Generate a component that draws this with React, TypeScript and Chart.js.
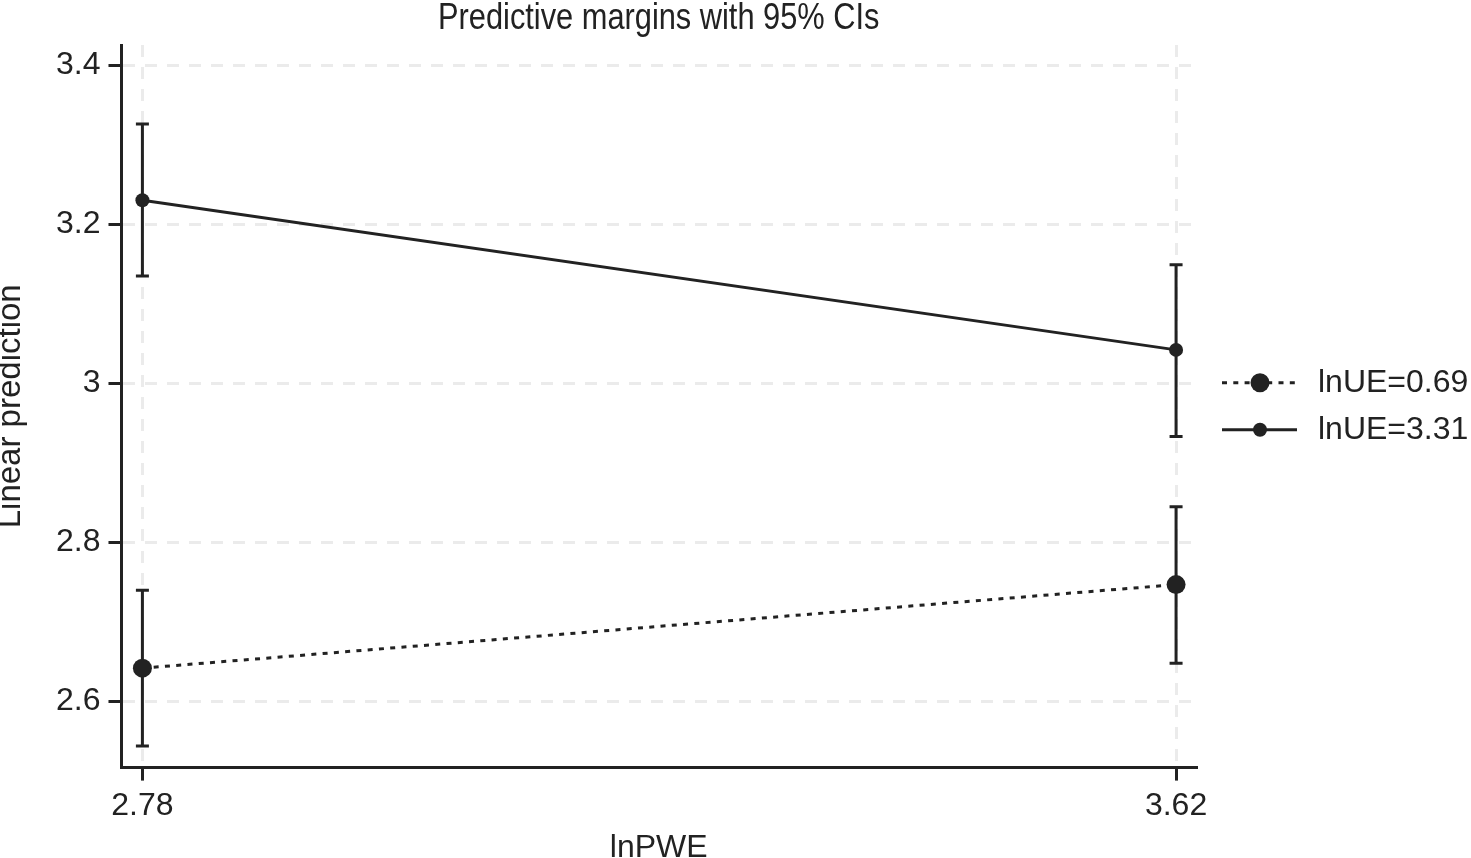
import React from "react"
import { Chart, registerables } from "chart.js"

Chart.register(...registerables)

// values
const xValues = [2.78, 3.62]
const seriesLabels = ["lnUE=0.69", "lnUE=3.31"]
const marginLow = [2.642, 2.747]
const lowerLow = [2.544, 2.648]
const upperLow = [2.740, 2.845]
const marginHigh = [3.230, 3.042]
const lowerHigh = [3.135, 2.933]
const upperHigh = [3.326, 3.149]
const yTicks = [2.6, 2.8, 3.0, 3.2, 3.4]
const xTicks = [2.78, 3.62]
const chartTitle = "Predictive margins with 95% CIs"

const INK = "#222222"
const GRID = "#ebebeb"
const FONT = "'Liberation Sans', Arial, Helvetica, sans-serif"

const fmt = (v: number | string) => Number(v).toFixed(2).replace(/\.?0+$/, "")

const errorBars = {
  id: "errorBars",
  beforeDatasetsDraw(chart: any) {
    const { ctx, scales } = chart
    const { x, y } = scales
    const bands = [
      [lowerLow, upperLow],
      [lowerHigh, upperHigh],
    ]
    ctx.save()
    ctx.strokeStyle = INK
    ctx.lineWidth = 3
    bands.forEach(([lo, hi]) => {
      xValues.forEach((xv, i) => {
        const px = x.getPixelForValue(xv)
        const top = y.getPixelForValue(hi[i])
        const bot = y.getPixelForValue(lo[i])
        ctx.beginPath()
        ctx.moveTo(px, top)
        ctx.lineTo(px, bot)
        ctx.moveTo(px - 6.5, top)
        ctx.lineTo(px + 6.5, top)
        ctx.moveTo(px - 6.5, bot)
        ctx.lineTo(px + 6.5, bot)
        ctx.stroke()
      })
    })
    ctx.restore()
  },
}

// narrow title centred over the plot area, partly clipped at the top
const plotTitle = {
  id: "plotTitle",
  afterDraw(chart: any) {
    const { ctx, chartArea } = chart
    const cx = (chartArea.left + chartArea.right) / 2
    ctx.save()
    ctx.font = `36px ${FONT}`
    ctx.fillStyle = INK
    ctx.textAlign = "center"
    ctx.textBaseline = "alphabetic"
    ctx.translate(cx, 29)
    ctx.scale(0.855, 1)
    ctx.fillText(chartTitle, 0, 0)
    ctx.restore()
  },
}

// legend to the right: line sample with marker, then the label
const sideLegend = {
  id: "sideLegend",
  afterDraw(chart: any) {
    const { ctx, chartArea } = chart
    const mid = (chartArea.top + chartArea.bottom) / 2
    const x0 = chartArea.right + 26
    chart.data.datasets.forEach((ds: any, i: number) => {
      const yy = mid + (i - 0.5) * 47
      ctx.save()
      ctx.strokeStyle = INK
      ctx.lineWidth = 3
      ctx.setLineDash(ds.borderDash || [])
      ctx.beginPath()
      ctx.moveTo(x0, yy)
      ctx.lineTo(x0 + 75, yy)
      ctx.stroke()
      ctx.setLineDash([])
      ctx.fillStyle = INK
      ctx.beginPath()
      ctx.arc(x0 + 38, yy, ds.pointRadius, 0, Math.PI * 2)
      ctx.fill()
      ctx.font = `32px ${FONT}`
      ctx.textBaseline = "middle"
      ctx.textAlign = "left"
      ctx.fillText(ds.label, x0 + 96, yy)
      ctx.restore()
    })
  },
}

const MarginsChart = () => {
  const chartRef = React.useRef<HTMLCanvasElement>(null)

  React.useEffect(() => {
    if (chartRef.current == null) {
      return
    }

    const chart = new Chart(chartRef.current, {
      type: "line",
      data: {
        datasets: [
          {
            label: seriesLabels[0],
            data: xValues.map((x, i) => ({ x, y: marginLow[i] })),
            borderColor: INK,
            backgroundColor: INK,
            borderWidth: 3,
            borderDash: [5, 6.3],
            pointRadius: 9.5,
            pointBorderWidth: 0,
            pointBackgroundColor: INK,
          },
          {
            label: seriesLabels[1],
            data: xValues.map((x, i) => ({ x, y: marginHigh[i] })),
            borderColor: INK,
            backgroundColor: INK,
            borderWidth: 3,
            pointRadius: 7,
            pointBorderWidth: 0,
            pointBackgroundColor: INK,
          },
        ],
      },
      options: {
        animation: false,
        responsive: true,
        maintainAspectRatio: false,
        clip: false,
        layout: { padding: { left: 0, right: 275, top: 45, bottom: 0 } },
        plugins: {
          legend: { display: false },
          tooltip: { enabled: false },
          title: { display: false },
        },
        scales: {
          x: {
            type: "linear",
            min: 2.763,
            max: 3.6362,
            afterBuildTicks: (scale: any) => {
              scale.ticks = xTicks.map((value) => ({ value }))
            },
            ticks: {
              color: INK,
              font: { family: FONT, size: 32 },
              padding: 6,
              maxRotation: 0,
              callback: (v: any) => fmt(v),
            },
            grid: { color: GRID, lineWidth: 3, tickColor: INK, tickWidth: 3, tickLength: 13 },
            border: { color: INK, width: 3, dash: [12, 10] },
            title: {
              display: true,
              text: "lnPWE",
              color: INK,
              font: { family: FONT, size: 32, lineHeight: "20px" },
              padding: { top: 7, bottom: 0 },
            },
          },
          y: {
            type: "linear",
            min: 2.517,
            max: 3.4252,
            afterBuildTicks: (scale: any) => {
              scale.ticks = yTicks.map((value) => ({ value }))
            },
            ticks: {
              color: INK,
              font: { family: FONT, size: 32 },
              padding: 8,
              callback: (v: any) => fmt(v),
            },
            grid: { color: GRID, lineWidth: 3, tickColor: INK, tickWidth: 3, tickLength: 13 },
            border: { color: INK, width: 3, dash: [12, 10] },
            title: {
              display: true,
              text: "Linear prediction",
              color: INK,
              font: { family: FONT, size: 33, lineHeight: "22px" },
              padding: { top: 0, bottom: 26 },
            },
          },
        },
      },
      plugins: [errorBars, plotTitle, sideLegend],
    })

    return () => {
      chart.destroy()
    }
  }, [])

  return (
    <div style={{ position: "fixed", left: 0, top: 0, width: 1471, height: 858, background: "#fff" }}>
      <canvas ref={chartRef} />
    </div>
  )
}

export default function App() {
  return <MarginsChart />
}
